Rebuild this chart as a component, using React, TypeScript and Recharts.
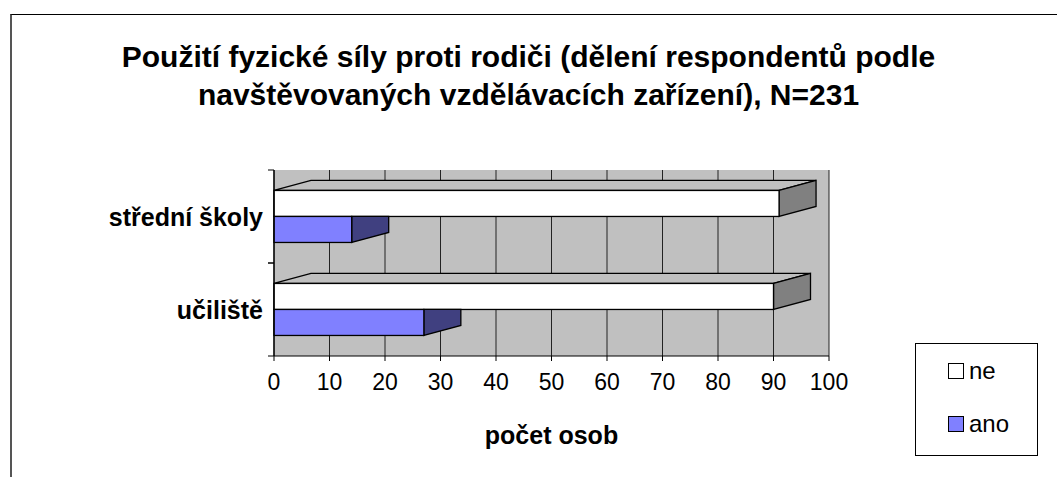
import React from 'react';
import { BarChart, Bar, XAxis, YAxis, CartesianGrid } from 'recharts';

const categories = ['střední školy', 'učiliště'];
const neValues = [91, 90];
const anoValues = [14, 27];
const xTicks = [0, 10, 20, 30, 40, 50, 60, 70, 80, 90, 100];

const titleLines = [
  'Použití fyzické síly proti rodiči (dělení respondentů podle',
  'navštěvovaných vzdělávacích zařízení), N=231',
];

const series = [
  { key: 'ne', name: 'ne', front: '#ffffff', side: '#808080', top: '#c0c0c0' },
  { key: 'ano', name: 'ano', front: '#8080ff', side: '#404080', top: '#6060c0' },
];

const data = categories.map((cat, i) => ({ cat, ne: neValues[i], ano: anoValues[i] }));

// depth of the fake 3D bars
const DX = 37;
const DY = 10;
const LABEL_GAP = 11;

const NeShape = (props: any) => {
  const { x, y, width: w, height: h } = props;
  const s = series[0];
  return (
    <g stroke="#000" strokeWidth={1.3}>
      <polygon points={`${x},${y} ${x + DX},${y - DY} ${x + w + DX},${y - DY} ${x + w},${y}`} fill={s.top} />
      <polygon points={`${x + w},${y} ${x + w + DX},${y - DY} ${x + w + DX},${y + h - DY} ${x + w},${y + h}`} fill={s.side} />
      <rect x={x} y={y} width={w} height={h} fill={s.front} />
    </g>
  );
};

// the top part of this bar is hidden behind the bar above it
const AnoShape = (props: any) => {
  const { x, y, width: w, height: h } = props;
  const s = series[1];
  return (
    <g stroke="#000" strokeWidth={1.3}>
      <polygon points={`${x + w},${y} ${x + w + DX},${y} ${x + w + DX},${y + h - DY} ${x + w},${y + h}`} fill={s.side} />
      <rect x={x} y={y} width={w} height={h} fill={s.front} />
    </g>
  );
};

// category label + tick marks on the band edges (Excel style)
const CatTick = (props: any) => {
  const { x, y, payload } = props;
  const half = payload && payload.offset ? payload.offset : 46.5;
  const ax = x + LABEL_GAP;
  return (
    <g>
      <line x1={ax - 6} x2={ax} y1={y - half} y2={y - half} stroke="#000" />
      <line x1={ax - 6} x2={ax} y1={y + half} y2={y + half} stroke="#000" />
      <text x={x} y={y} dy="0.36em" textAnchor="end" fontSize={25} fontWeight="bold" fill="#000">
        {payload.value}
      </text>
    </g>
  );
};

const App = () => {
  return (
    <div
      style={{
        position: 'absolute',
        left: 0,
        top: 0,
        width: 1057,
        height: 477,
        overflow: 'hidden',
        background: '#fff',
        fontFamily: 'Arial, "Liberation Sans", sans-serif',
      }}
    >
      <div
        style={{
          position: 'absolute',
          left: 10,
          top: 14,
          width: 1100,
          height: 500,
          borderTop: '1px solid #000',
          borderLeft: '2px solid #555',
        }}
      />
      <div
        style={{
          position: 'absolute',
          left: 0,
          top: 38,
          width: 1057,
          textAlign: 'center',
          fontWeight: 'bold',
          fontSize: 30,
          lineHeight: '38px',
          color: '#000',
        }}
      >
        {titleLines.map((t) => (
          <div key={t}>{t}</div>
        ))}
      </div>

      <div style={{ position: 'absolute', left: 0, top: 0 }}>
        <BarChart
          width={1057}
          height={477}
          data={data}
          layout="vertical"
          margin={{ top: 170, right: 228, bottom: 21, left: 10 }}
          barCategoryGap="22%"
          barGap={0}
        >
          <CartesianGrid horizontal={false} fill="#c0c0c0" stroke="#222" fillOpacity={1} />
          <XAxis
            type="number"
            domain={[0, 100]}
            ticks={xTicks}
            interval={0}
            tickSize={5}
            tickMargin={13}
            height={100}
            axisLine={{ stroke: '#000' }}
            tickLine={{ stroke: '#000' }}
            tick={{ fontSize: 23, fill: '#000' }}
            label={{
              value: 'počet osob',
              position: 'insideBottom',
              offset: 12,
              style: { fontSize: 25, fontWeight: 'bold', fill: '#000' },
            }}
          />
          <YAxis
            type="category"
            dataKey="cat"
            width={264}
            interval={0}
            tickSize={0}
            tickMargin={LABEL_GAP}
            axisLine={{ stroke: '#000', strokeWidth: 1.3 }}
            tickLine={false}
            tick={<CatTick />}
          />
          <Bar dataKey="ne" name="ne" shape={NeShape} isAnimationActive={false} />
          <Bar dataKey="ano" name="ano" shape={AnoShape} isAnimationActive={false} />
        </BarChart>
      </div>

      <div
        style={{
          position: 'absolute',
          left: 915,
          top: 343,
          width: 121,
          height: 111,
          border: '1px solid #000',
          background: '#fff',
        }}
      >
        {series.map((s, i) => (
          <div
            key={s.key}
            style={{
              position: 'absolute',
              left: 32,
              top: 18 + i * 53,
              display: 'flex',
              alignItems: 'center',
              fontSize: 24,
              lineHeight: '18px',
              color: '#000',
            }}
          >
            <span
              style={{
                display: 'inline-block',
                width: 14,
                height: 14,
                border: '1px solid #000',
                background: s.front,
                marginRight: 5,
              }}
            />
            {s.name}
          </div>
        ))}
      </div>
    </div>
  );
};

export default App;
